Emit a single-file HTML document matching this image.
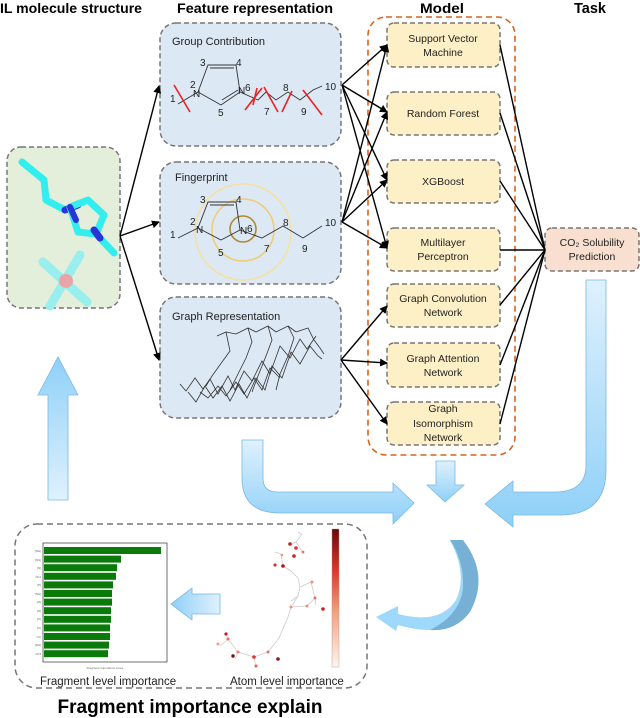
<!DOCTYPE html>
<html><head><meta charset="utf-8"><style>
html,body{margin:0;padding:0;background:#fff;width:640px;height:718px;overflow:hidden}
svg{display:block;font-family:"Liberation Sans",sans-serif}
</style></head><body>
<svg width="640" height="718" viewBox="0 0 640 718" xmlns="http://www.w3.org/2000/svg">
<defs>
<linearGradient id="bv" x1="0" y1="0" x2="0" y2="1"><stop offset="0" stop-color="#dff1fd"/><stop offset="1" stop-color="#8fd0f8"/></linearGradient>
<linearGradient id="bh" x1="0" y1="0" x2="1" y2="0"><stop offset="0" stop-color="#8fd0f8"/><stop offset="1" stop-color="#dff1fd"/></linearGradient>
<linearGradient id="bvr" x1="0" y1="0" x2="0" y2="1"><stop offset="0" stop-color="#8fd0f8"/><stop offset="1" stop-color="#dff1fd"/></linearGradient>
<linearGradient id="cb" x1="0" y1="1" x2="0" y2="0"><stop offset="0" stop-color="#fff5ee"/><stop offset="0.4" stop-color="#f4a080"/><stop offset="0.7" stop-color="#e03528"/><stop offset="1" stop-color="#6a0808"/></linearGradient>
<marker id="ah" markerWidth="8" markerHeight="8" refX="7" refY="4" orient="auto" markerUnits="userSpaceOnUse"><path d="M0,0 L8,4 L0,8 z" fill="#000"/></marker>
</defs>

<g font-weight="bold" font-size="14" fill="#000">
<text x="0" y="13" textLength="142" lengthAdjust="spacingAndGlyphs">IL molecule structure</text>
<text x="177" y="13" textLength="156" lengthAdjust="spacingAndGlyphs">Feature representation</text>
<text x="420" y="13" textLength="44" lengthAdjust="spacingAndGlyphs">Model</text>
<text x="574" y="13" font-size="14.5">Task</text>
</g>

<rect x="7" y="147" width="113" height="161" rx="14" fill="#e3efda" stroke="#777" stroke-width="1.5" stroke-dasharray="5,3"/>
<g stroke-linecap="round" stroke-linejoin="round" fill="none">
<polyline points="22,162 44,180 46,200 65,210 78,205" stroke="#3ee" stroke-width="7"/>
<polyline points="65,210 78,205" stroke="#2833d8" stroke-width="7"/>
<polygon points="70,207 88,200 104,215 96,234 78,232" stroke="#3ee" stroke-width="7"/>
<polyline points="96,234 114,253" stroke="#3ee" stroke-width="7"/>
<polyline points="70,207 76,220" stroke="#2833d8" stroke-width="6"/>
<polyline points="94,230 100,238" stroke="#2833d8" stroke-width="7"/>
<line x1="43" y1="262" x2="87" y2="302" stroke="#9ee" stroke-width="9"/>
<line x1="80" y1="255" x2="50" y2="306" stroke="#9ee" stroke-width="9"/>
<circle cx="66" cy="281" r="7" fill="#e9a5a5" stroke="none"/>
</g>

<g fill="#dce8f4" stroke="#777" stroke-width="1.5" stroke-dasharray="5,3">
<rect x="160" y="23" width="181" height="123" rx="16"/>
<rect x="160" y="162" width="181" height="122" rx="16"/>
<rect x="160" y="297" width="181" height="121" rx="16"/>
</g>
<g font-size="11" fill="#222">
<text x="172" y="45">Group Contribution</text>
<text x="175" y="181">Fingerprint</text>
<text x="172" y="320">Graph Representation</text>
</g>
<g stroke="#333" stroke-width="0.9" fill="none">
<polyline points="178,104 198,92 221,105 240,92 258,100 266,92 276,100 288,92 300,100 313,90 322,86"/>
<polyline points="198,92 208,65 236,65 240,92"/>
<line x1="210" y1="68" x2="234" y2="68"/>
<line x1="222" y1="100" x2="238" y2="90"/>
</g>
<g font-size="10" fill="#222">
<text x="170" y="102">1</text><text x="190" y="88">2</text><text x="200" y="66">3</text><text x="236" y="66">4</text><text x="218" y="116">5</text><text x="238" y="94">N</text><text x="245" y="91">6</text><text x="193" y="97">N</text><text x="264" y="115">7</text><text x="283" y="91">8</text><text x="301" y="115">9</text><text x="325" y="90">10</text>
</g>
<g stroke="#e82222" stroke-width="1.6">
<line x1="174" y1="85" x2="190" y2="112"/><line x1="253" y1="105" x2="257" y2="88"/><line x1="264" y1="87" x2="278" y2="112"/><line x1="282" y1="112" x2="292" y2="91"/><line x1="303" y1="90" x2="322" y2="115"/>
<line x1="245" y1="110" x2="262" y2="88"/>
</g>
<g fill="none">
<circle cx="243" cy="232" r="48" stroke="#f6e0a0" stroke-width="1.5"/>
<circle cx="243" cy="230" r="31" stroke="#f0cc70" stroke-width="1.5"/>
<circle cx="243" cy="229" r="13" stroke="#b08a30" stroke-width="1.6"/>
</g>
<g stroke="#333" stroke-width="0.9" fill="none">
<polyline points="178,238 198,228 221,240 240,230 262,238 283,226 303,238 322,226"/>
<polyline points="198,228 208,202 236,202 240,230"/>
<line x1="210" y1="205" x2="234" y2="205"/>
</g>
<g font-size="10" fill="#222">
<text x="170" y="238">1</text><text x="190" y="225">2</text><text x="200" y="203">3</text><text x="236" y="203">4</text><text x="218" y="256">5</text><text x="240" y="234">N</text><text x="247" y="232">6</text><text x="196" y="233">N</text><text x="264" y="252">7</text><text x="283" y="226">8</text><text x="302" y="252">9</text><text x="325" y="226">10</text>
</g>
<g stroke="#333" stroke-width="0.8" fill="none" transform="translate(0,6)">
<polyline points="180,378 186,385 195,372 203,383 210,373 218,388 228,370 235,384 244,365 252,375 262,355 270,368 280,340 290,352 300,333 307,343 316,330"/>
<polyline points="188,386 196,396 205,380 213,392 222,380 230,395 239,378 247,392 256,372 265,384 272,360 282,372 291,346 300,358 310,340 318,350 322,353"/>
<polyline points="200,386 208,392 218,380 226,390 236,376 244,388 254,372 262,384 270,362 280,372"/>
<polyline points="217,330 226,326 230,345 222,356 212,370 206,380"/>
<polyline points="236,328 248,322 252,336 246,352 236,372 230,384"/>
<polyline points="256,326 268,320 272,334 266,350 258,370 252,386"/>
<polyline points="276,326 288,320 294,332 288,350 280,368 276,384"/>
<polyline points="296,326 308,322 314,334 320,342 324,348"/>
<polyline points="226,326 236,328"/><polyline points="248,322 256,326"/><polyline points="268,320 276,326"/><polyline points="288,320 296,326"/>
</g>

<rect x="368" y="17" width="147" height="438" rx="18" fill="none" stroke="#d9641f" stroke-width="1.6" stroke-dasharray="6,4"/>
<g fill="#fdefc6" stroke="#777" stroke-width="1.5" stroke-dasharray="5,3">
<rect x="387" y="23" width="113" height="44" rx="7"/>
<rect x="387" y="92" width="113" height="43" rx="7"/>
<rect x="387" y="160" width="113" height="43" rx="7"/>
<rect x="387" y="228" width="113" height="43" rx="7"/>
<rect x="387" y="284" width="113" height="43" rx="7"/>
<rect x="387" y="343" width="113" height="44" rx="7"/>
<rect x="387" y="402" width="113" height="43" rx="7"/>
</g>
<rect x="545" y="228" width="94" height="43" rx="7" fill="#f9dfcf" stroke="#777" stroke-width="1.5" stroke-dasharray="5,3"/>
<g font-size="10.5" fill="#222" text-anchor="middle">
<text x="443" y="42">Support Vector</text><text x="443" y="56">Machine</text>
<text x="443" y="117">Random Forest</text>
<text x="443" y="185">XGBoost</text>
<text x="443" y="246">Multilayer</text><text x="443" y="260">Perceptron</text>
<text x="443" y="302">Graph Convolution</text><text x="443" y="316">Network</text>
<text x="443" y="362">Graph Attention</text><text x="443" y="376">Network</text>
<text x="443" y="412">Graph</text><text x="443" y="427">Isomorphism</text><text x="443" y="441">Network</text>
<text x="592" y="246">CO₂ Solubility</text><text x="592" y="260">Prediction</text>
</g>

<g stroke="#000" stroke-width="1.4" fill="none" marker-end="url(#ah)">
<line x1="120" y1="236" x2="159" y2="86"/>
<line x1="120" y1="236" x2="159" y2="222"/>
<line x1="120" y1="236" x2="159" y2="360"/>
<line x1="342" y1="85" x2="387" y2="45"/>
<line x1="342" y1="85" x2="387" y2="112"/>
<line x1="342" y1="85" x2="387" y2="180"/>
<line x1="342" y1="85" x2="387" y2="248"/>
<line x1="342" y1="222" x2="387" y2="45"/>
<line x1="342" y1="222" x2="387" y2="112"/>
<line x1="342" y1="222" x2="387" y2="180"/>
<line x1="342" y1="222" x2="387" y2="248"/>
<line x1="341" y1="360" x2="387" y2="306"/>
<line x1="341" y1="360" x2="387" y2="363"/>
<line x1="341" y1="360" x2="387" y2="424"/>
</g>
<g stroke="#000" stroke-width="1.4" fill="none">
<line x1="500" y1="45" x2="545" y2="250"/>
<line x1="500" y1="113" x2="545" y2="250"/>
<line x1="500" y1="181" x2="545" y2="250"/>
<line x1="500" y1="250" x2="545" y2="250"/>
<line x1="500" y1="305" x2="545" y2="250"/>
<line x1="500" y1="365" x2="545" y2="250"/>
<line x1="500" y1="424" x2="545" y2="250"/>
</g>

<path d="M48,500 L48,395 L38,395 L58,357 L78,395 L68,395 L68,500 Z" fill="url(#bvr)" stroke="#7ab9e2" stroke-width="0.8"/>
<path d="M242,440 L263,440 L263,478 Q263,492 277,492 L393,492 L393,483 L414,503 L393,524 L393,513 L280,513 Q242,513 242,478 Z" fill="url(#bv)" stroke="#7ab9e2" stroke-width="0.8"/>
<path d="M436,461 L455,461 L455,485 L464,485 L445,502 L427,485 L436,485 Z" fill="url(#bv)" stroke="#7ab9e2" stroke-width="0.8"/>
<path d="M586,280 L606,280 L606,470 Q606,515 560,515 L513,515 L513,527 L485,504 L513,481 L513,492 L555,492 Q586,492 586,465 Z" fill="url(#bv)" stroke="#7ab9e2" stroke-width="0.8"/>
<path d="M450,540 Q485,570 470,610 Q450,640 398,625 L396,631 L376,617 L398,606 L398,614 Q440,625 456,600 Q468,575 450,540 Z" fill="#9ed8fa"/>
<path d="M450,540 L463,540 Q490,575 470,612 Q455,632 430,630 Q460,615 463,588 Q464,560 450,540 Z" fill="#76b0d4"/>
<path d="M220,594 L192,594 L192,588 L171,604 L192,620 L192,614 L220,614 Z" fill="url(#bh)" stroke="#7ab9e2" stroke-width="0.8"/>

<rect x="15" y="524" width="352" height="164" rx="22" fill="none" stroke="#777" stroke-width="1.5" stroke-dasharray="6,4"/>
<rect x="43" y="543" width="124" height="119" fill="#fff" stroke="#333" stroke-width="0.7"/>
<g fill="#0a7a0a">
<rect x="44" y="547" width="117" height="7"/>
<rect x="44" y="555.6" width="77" height="7"/>
<rect x="44" y="564.2" width="73" height="7"/>
<rect x="44" y="572.8" width="72" height="7"/>
<rect x="44" y="581.4" width="69" height="7"/>
<rect x="44" y="590" width="68" height="7"/>
<rect x="44" y="598.6" width="68" height="7"/>
<rect x="44" y="607.2" width="67" height="7"/>
<rect x="44" y="615.8" width="67" height="7"/>
<rect x="44" y="624.4" width="66" height="7"/>
<rect x="44" y="633" width="66" height="7"/>
<rect x="44" y="641.6" width="65" height="7"/>
<rect x="44" y="650.2" width="64" height="7"/>
</g>
<g font-size="3" fill="#666" text-anchor="end">
<text x="41" y="552">[NH]</text><text x="41" y="561">[NS]</text><text x="41" y="569">[N]</text><text x="41" y="578">CF4</text><text x="41" y="586">[P]</text><text x="41" y="595">[NH]</text><text x="41" y="603">[O]</text><text x="41" y="612">[O]</text><text x="41" y="620">[C]</text><text x="41" y="629">[C]</text><text x="41" y="638">CC</text><text x="41" y="646">[NH]</text><text x="41" y="655">CF3</text>
</g>
<text x="105" y="669" font-size="3" fill="#666" text-anchor="middle">Fragment importance score</text>
<g transform="translate(0,-24)">
<g stroke="#ccc" stroke-width="0.8" fill="none">
<polyline points="226,658 228,663 238,676 254,681 268,676 279,662 288,641 291,631 298,620 300,611 298,602 291,595 283,590 281,578 275,576"/>
<polyline points="291,631 307,630 315,622 311,606 300,611"/>
<polyline points="298,620 291,625"/><polyline points="315,622 316,629"/>
<polyline points="238,676 235,683"/><polyline points="254,681 256,692"/><polyline points="228,663 220,670"/>
<polyline points="290,569 296,566 302,558 298,556"/><polyline points="296,566 302,575"/>
</g>
<circle cx="226" cy="658" r="1.6" fill="#c02020"/><circle cx="228" cy="663" r="1.5" fill="#f07060"/><circle cx="218" cy="668" r="1.5" fill="#f0a090"/><circle cx="233" cy="680" r="1.7" fill="#701010"/>
<circle cx="238" cy="676" r="1.5" fill="#f08070"/><circle cx="254" cy="681" r="1.8" fill="#e03030"/><circle cx="256" cy="690" r="1.5" fill="#f06050"/><circle cx="268" cy="676" r="1.5" fill="#f07060"/><circle cx="278" cy="683" r="1.8" fill="#901818"/>
<circle cx="291" cy="631" r="1.5" fill="#f09080"/><circle cx="307" cy="630" r="1.5" fill="#f09080"/><circle cx="315" cy="622" r="1.5" fill="#f07060"/><circle cx="312" cy="606" r="1.5" fill="#f09080"/><circle cx="323" cy="633" r="1.8" fill="#d02020"/>
<circle cx="283" cy="590" r="1.8" fill="#b01818"/><circle cx="275" cy="589" r="1.6" fill="#e03030"/><circle cx="282" cy="579" r="1.3" fill="#f09080"/>
<circle cx="290" cy="568" r="1.8" fill="#c02020"/><circle cx="296" cy="572" r="1.8" fill="#e03030"/><circle cx="294" cy="580" r="1.8" fill="#d02020"/><circle cx="303" cy="576" r="1.4" fill="#f07060"/>
</g>
<rect x="332" y="529" width="7" height="138" fill="url(#cb)" stroke="#999" stroke-width="0.4"/>
<g font-size="11.5" fill="#222">
<text x="40" y="685">Fragment level importance</text>
<text x="230" y="685">Atom level importance</text>
</g>
<text x="190" y="713" font-size="19" font-weight="bold" text-anchor="middle" textLength="265" lengthAdjust="spacingAndGlyphs">Fragment importance explain</text>
</svg>
</body></html>
